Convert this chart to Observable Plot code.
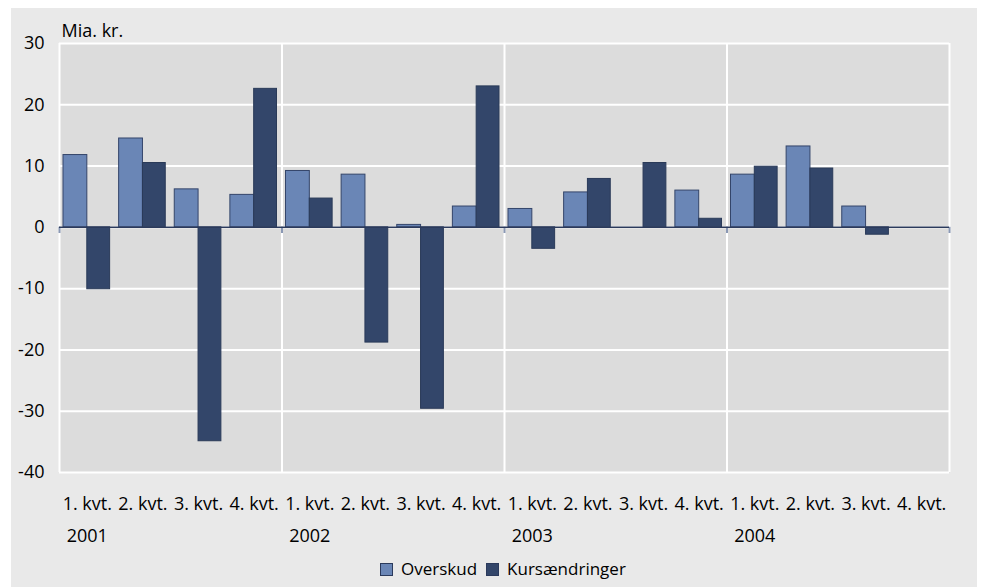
<!DOCTYPE html>
<html>
<head>
<meta charset="utf-8">
<script src="https://cdn.jsdelivr.net/npm/d3@7"></script>
<script src="https://cdn.jsdelivr.net/npm/@observablehq/plot@0.6"></script>
<style>
  body { margin: 0; background: #ffffff; width: 981px; height: 587px; overflow: hidden; }
  #wrap { position: absolute; left: 11px; top: 8px; width: 966px; height: 579px; background: #e9e9e9; }
  #legend { position: absolute; left: 369px; top: 551px; height: 20px; line-height: 20px;
            font-family: "Open Sans", sans-serif; font-size: 17px; color: #000; display: flex; align-items: center; white-space: nowrap; }
  .sw { display: inline-block; width: 11px; height: 11px; border: 1px solid #2b3a5c; margin-right: 8px; }
  .item { display: flex; align-items: center; margin-right: 9px; }
</style>
</head>
<body>
<div id="wrap"></div>
<script>
const years = [2001, 2002, 2003, 2004];
const quarterLabels = ["1. kvt.", "2. kvt.", "3. kvt.", "4. kvt."];
const seriesNames = ["Overskud", "Kursændringer"];
const seriesColors = ["#6a86b6", "#33466a"];
const overskud = [11.8, 14.5, 6.2, 5.3, 9.2, 8.6, 0.4, 3.4, 3.0, 5.7, 0, 6.0, 8.6, 13.2, 3.4, 0];
const kursaendringer = [-10.1, 10.5, -34.9, 22.6, 4.7, -18.8, -29.6, 23.0, -3.5, 7.9, 10.5, 1.4, 9.9, 9.6, -1.2, 0];
const yTicks = [-40, -30, -20, -10, 0, 10, 20, 30];
const unitLabel = "Mia. kr.";

const rows = [];
years.forEach((year, yi) => {
  quarterLabels.forEach((ql, qi) => {
    const i = yi * 4 + qi;
    const start = year + qi / 4;
    rows.push({year, qi, start, end: start + 0.25, mid: start + 0.125, o: overskud[i], k: kursaendringer[i]});
  });
});
const yearEdges = [...years, years[years.length - 1] + 1];
const mids = rows.map(d => d.mid);
const q1mids = rows.filter(d => d.qi === 0).map(d => d.mid);

const chart = Plot.plot({
  width: 966,
  height: 551,
  marginLeft: 48,
  marginRight: 28,
  marginTop: 35,
  marginBottom: 87,
  style: {fontFamily: "Open Sans, sans-serif", fontSize: "18px", color: "#000", background: "transparent"},
  x: {type: "linear", domain: [yearEdges[0], yearEdges[yearEdges.length - 1]]},
  y: {domain: [-40, 30]},
  marks: [
    Plot.frame({fill: "#dcdcdc", stroke: null}),
    Plot.gridY(yTicks, {stroke: "#ffffff", strokeOpacity: 1, strokeWidth: 2}),
    Plot.gridX(yearEdges, {stroke: "#ffffff", strokeOpacity: 1, strokeWidth: 2}),
    Plot.rectY(rows, {x1: "start", x2: "end", y1: 0, y2: "o", insetLeft: 4, insetRight: 27.8,
      fill: seriesColors[0], stroke: "#34456a", strokeWidth: 1}),
    Plot.rectY(rows, {x1: "start", x2: "end", y1: 0, y2: "k", insetLeft: 27.8, insetRight: 5,
      fill: seriesColors[1], stroke: "#2a3a58", strokeWidth: 1}),
    Plot.ruleX(yearEdges, {y1: 0, y2: -1, stroke: "#8a98b4", strokeWidth: 2}),
    Plot.ruleY([0], {stroke: "#2b3a5c", strokeWidth: 1.5}),
    Plot.axisY(yTicks, {tickSize: 0, tickPadding: 15, fill: "#000", tickFormat: d => String(d)}),
    Plot.axisX(mids, {tickSize: 0, tickPadding: 25, fill: "#000",
      tickFormat: d => quarterLabels[Math.round((d - Math.floor(d)) * 4 - 0.5)]}),
    Plot.axisX(q1mids, {tickSize: 0, tickPadding: 57, fill: "#000",
      tickFormat: d => String(Math.floor(d))}),
    Plot.text([unitLabel], {frameAnchor: "top-left", textAnchor: "start", lineAnchor: "bottom", dx: 2, dy: -7, fill: "#000"})
  ]
});
const wrap = document.getElementById("wrap");
wrap.appendChild(chart);

const legend = document.createElement("div");
legend.id = "legend";
seriesNames.forEach((name, i) => {
  const item = document.createElement("span");
  item.className = "item";
  const sw = document.createElement("span");
  sw.className = "sw";
  sw.style.background = seriesColors[i];
  item.appendChild(sw);
  item.appendChild(document.createTextNode(name));
  legend.appendChild(item);
});
wrap.appendChild(legend);
</script>
</body>
</html>
